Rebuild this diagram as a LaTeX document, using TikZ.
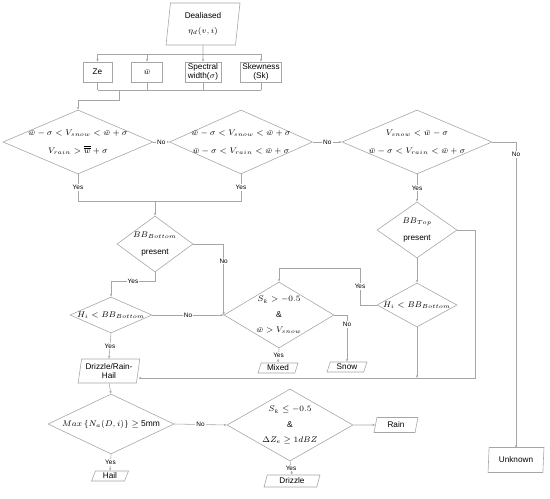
\documentclass[tikz,border=0pt]{standalone}
\usepackage{fontspec}
\setmainfont{Liberation Sans}
\usepackage{amsmath}
\usepackage{amssymb}
\usetikzlibrary{
  positioning,
  shapes.geometric,
  arrows.meta,
  calc,
}
\definecolor{border}{HTML}{A6A6A6}
\definecolor{lineGray}{HTML}{A6A6A6}
\tikzset{
  procbox/.style={
    rectangle, draw=border, fill=white, align=center,
    font=\scriptsize, inner sep=1pt, line width=0.5pt,
    minimum height=6mm,
  },
  iobox/.style={
    trapezium, trapezium left angle=#1, trapezium right angle={180-#1},
    trapezium stretches=true, draw=border, fill=white, align=center,
    font=\scriptsize, inner sep=1pt, line width=0.5pt,
  },
  decision/.style={
    diamond, draw=border, fill=white, inner sep=0pt, line width=0.5pt,
  },
  dtext/.style={align=center, font={\fontsize{7.2}{9}\selectfont}, inner sep=0pt},
  arrow/.style={-{Stealth[length=2.5pt, width=2pt]}, draw=lineGray, line width=0.5pt},
  link/.style={draw=lineGray, line width=0.5pt},
  lbl/.style={font={\fontsize{5.5}{6}\selectfont}, fill=white, inner sep=1pt},
}

\begin{document}
\begin{tikzpicture}[x=0.3mm, y=-0.3mm]
  \useasboundingbox (0,0) rectangle (550,499);

  % Input and moments
  \node[iobox=84, minimum width=22.2mm, minimum height=12.6mm] (dealias) at (203,24) {Dealiased\\[5pt]$\eta_d(v,i)$};
  \node[procbox, minimum width=8.7mm] (ze) at (97.5,72) {Ze};
  \node[procbox, minimum width=9.3mm] (wbar) at (147,72) {$\bar{w}$};
  \node[procbox, minimum width=10.8mm] (spec) at (203,72) {Spectral\\width($\sigma$)};
  \node[procbox, minimum width=12.3mm] (skew) at (261,72) {Skewness\\(Sk)};

  \coordinate (topbus) at (0,54);
  \coordinate (botbus) at (0,90);
  \coordinate (tap) at (119,90);
  \coordinate (tapbend) at (119,100);

  \draw[arrow] (dealias) -- (spec);
  \draw[link] (ze.north |- topbus) -- (skew.north |- topbus);
  \foreach \b in {ze, wbar, skew} \draw[arrow] (\b.north |- topbus) -- (\b.north);
  \foreach \b in {ze, wbar, spec, skew} \draw[link] (\b.south) -- (\b.south |- botbus);
  \draw[link] (ze.south |- botbus) -- (skew.south |- botbus);

  % Velocity tests
  \node[decision, minimum width=45mm, minimum height=19.2mm,
    label={[dtext]center:{$\bar{w}-\sigma<V_{snow}<\bar{w}+\sigma$\\[6pt]$V_{rain}>\overline{\overline{w}}+\sigma$}}] (dmix) at (78,142) {};
  \node[decision, minimum width=42.9mm, minimum height=19.2mm,
    label={[dtext]center:{$\bar{w}-\sigma<V_{snow}<\bar{w}+\sigma$\\[6pt]$\bar{w}-\sigma<V_{rain}<\bar{w}+\sigma$}}] (dboth) at (241,142) {};
  \node[decision, minimum width=45mm, minimum height=19.2mm,
    label={[dtext]center:{$V_{snow}<\bar{w}-\sigma$\\[6pt]$\bar{w}-\sigma<V_{rain}<\bar{w}+\sigma$}}] (drain) at (417,142) {};

  \draw[arrow] (tap) -- (tapbend) -| (dmix.north);
  \draw[arrow] (dmix.east) -- node[lbl] (no1) {No} (dboth.west);
  \draw[arrow] (dboth.east) -- node[lbl] (no2) {No} (drain.west);

  % Bright band
  \node[decision, minimum width=22.8mm, minimum height=16.8mm,
    label={[dtext]center:{$BB_{Bottom}$\\[5pt]{\scriptsize present}}}] (dbbb) at (155,244) {};
  \node[decision, minimum width=24.6mm, minimum height=10.8mm,
    label={[dtext]center:{$H_i<BB_{Bottom}$}}] (dhb) at (111,315) {};
  \node[decision, minimum width=33mm, minimum height=19.8mm,
    label={[dtext]center:{$S_k>-0.5$\\[4pt]\&\\[4pt]$\bar{w}>V_{snow}$}}] (dsk) at (279,315) {};
  \node[decision, minimum width=24mm, minimum height=16.8mm,
    label={[dtext]center:{$BB_{Top}$\\[5pt]{\scriptsize present}}}] (dbbt) at (417,230) {};
  \node[decision, minimum width=24mm, minimum height=13.2mm,
    label={[dtext]center:{$H_i<BB_{Bottom}$}}] (dht) at (417,305) {};

  \coordinate (merge) at (155,201);
  \coordinate (yesbend) at (360,268);
  \coordinate (rbus) at (475,378);

  \draw[link] (dmix.south) -- node[lbl] (yes1) {Yes} (dmix.south |- merge)
    -- (dboth.south |- merge) -- node[lbl] (yes2) {Yes} (dboth.south);
  \draw[arrow] (merge) -- (dbbb.north);
  \draw[arrow] (dbbb.east) -| node[lbl, pos=0.62] (no3) {No} (dsk.west);
  \draw[arrow] (dbbb.south) -- ++(0,9) -| node[lbl, pos=0.25] (yes3) {Yes} (dhb.north);
  \draw[arrow] (dhb.east) -- node[lbl] (no4) {No} (dsk.west);
  \draw[arrow] (drain.south) -- node[lbl] (yes4) {Yes} (dbbt.north);
  \draw[arrow] (drain.east) -| node[lbl, pos=0.52] (no5) {No} (516,448);
  \draw[arrow] (dbbt.south) -- (dht.north);
  \draw[arrow] (dht.west) -| node[lbl, pos=0.75] (yes5) {Yes} (yesbend) -| (dsk.north);

  % Classes
  \node[iobox=80, minimum width=18.6mm, minimum height=7.2mm] (rhail) at (109,371) {Drizzle/Rain-\\Hail};
  \node[iobox=75, minimum width=12mm, minimum height=3mm] (mixed) at (278,368) {Mixed};
  \node[iobox=75, minimum width=12mm, minimum height=3mm] (snow) at (347,367) {Snow};
  \node[iobox=85, minimum width=16.8mm, minimum height=7.5mm] (unknown) at (516,460) {Unknown};

  \draw[arrow] (dhb.south) -- node[lbl] (yes6) {Yes} (rhail.north);
  \draw[arrow] (dsk.south) -- node[lbl] (yes7) {Yes} (mixed.north);
  \draw[arrow] (dsk.east) -| node[lbl, pos=0.6] (no6) {No} (snow.north);
  \draw[link] (unknown.north) -- (516,448);
  \draw[arrow] (dbbt.east) -| (rbus) -- (rhail.east |- rbus);
  \draw[arrow] (dht.south) -- (dht.south |- rbus);

  % Hail and rain
  \node[decision, minimum width=37.8mm, minimum height=18mm,
    label={[dtext]center:{$Max\left\{N_a(D,i)\right\}\geq$ 5mm}}] (dmax) at (111,424) {};
  \node[decision, minimum width=37.8mm, minimum height=21.6mm,
    label={[dtext]center:{$S_k\leq-0.5$\\[4pt]\&\\[4pt]$\Delta Z_e\geq 1dBZ$}}] (dzr) at (290,425) {};
  \node[iobox=75, minimum width=11.1mm, minimum height=3mm] (hail) at (110,476) {Hail};
  \node[iobox=80, minimum width=13.2mm, minimum height=4.5mm] (rain) at (396,425) {Rain};
  \node[iobox=78, minimum width=16.8mm, minimum height=3.6mm] (drizzle) at (292,481) {Drizzle};

  \draw[arrow] (rhail.south) -- (dmax.north);
  \draw[arrow] (dmax.east) -- node[lbl] (no7) {No} (dzr.west);
  \draw[arrow] (dmax.south) -- node[lbl] (yes8) {Yes} (hail.north);
  \draw[arrow] (dzr.east) -- (rain.west);
  \draw[arrow] (dzr.south) -- node[lbl] (yes9) {Yes} (drizzle.north);

\end{tikzpicture}
\end{document}
